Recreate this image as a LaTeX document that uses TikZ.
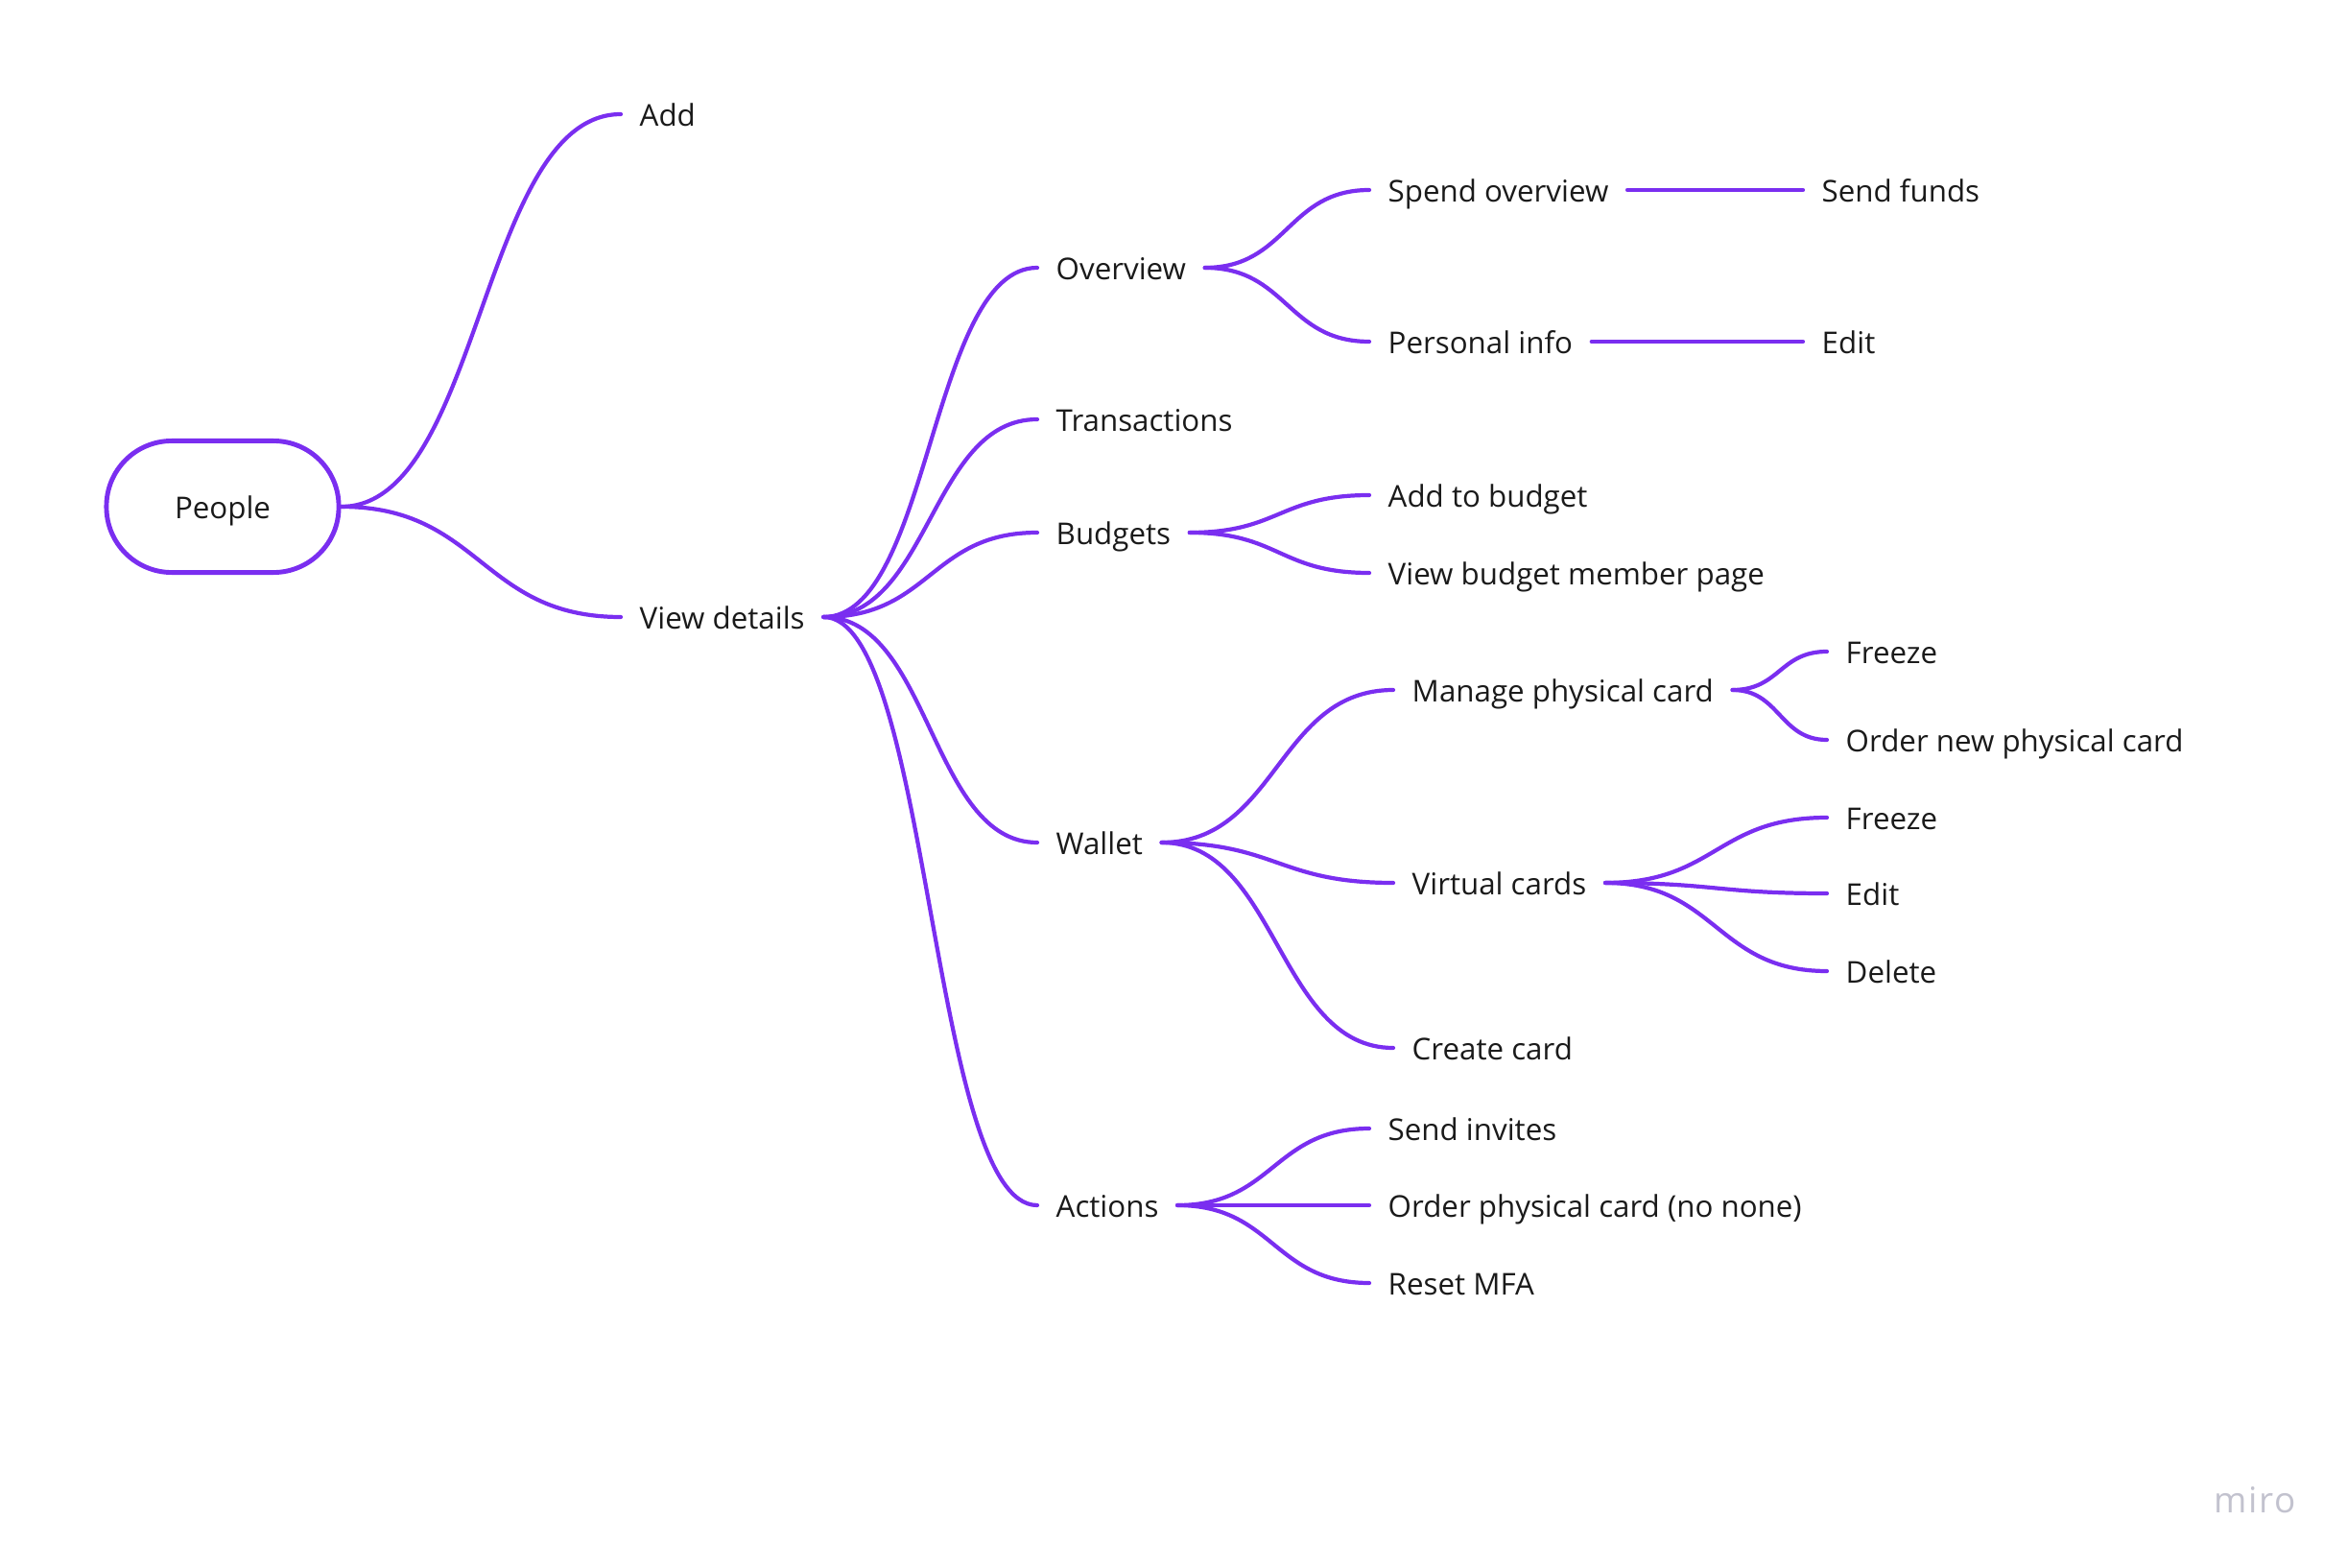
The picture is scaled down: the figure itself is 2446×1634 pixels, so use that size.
\documentclass[tikz,border=0pt]{standalone}
\usepackage{fontspec}
\setmainfont{Open Sans}
\newfontfamily\logoFont[LetterSpace=4]{Open Sans}
\usepackage{xcolor}
\definecolor{mapPurple}{HTML}{7A2EF0}
\definecolor{textPrimary}{HTML}{1A1A1A}
\definecolor{logoGrey}{HTML}{C2C2CE}
\usetikzlibrary{calc, positioning}

\begin{document}
\begin{tikzpicture}[x=0.01cm, y=-0.01cm,
    topic/.style={anchor=west, inner xsep=0.19cm, inner ysep=2pt,
                  text height=0.94em, text depth=0.25em,
                  text=textPrimary, font=\fontsize{8.9}{10}\selectfont},
    rootBox/.style={draw=mapPurple, line width=1.4pt, rounded corners=0.68cm,
                    minimum width=2.42cm, minimum height=1.37cm,
                    text height=0.94em, text depth=0.25em,
                    text=textPrimary, font=\fontsize{8.9}{10}\selectfont},
    branch/.style={draw=mapPurple, line width=1.2pt, line cap=round,
                   to path={.. controls ($(\tikztostart)!0.5!(\tikztostart -| \tikztotarget)$)
                            and ($(\tikztotarget)!0.5!(\tikztotarget -| \tikztostart)$)
                            .. (\tikztotarget)}}]
  \useasboundingbox (0,0) rectangle (2446,1634);

  % root and first level
  \node[rootBox] (people) at (232,528) {People};
  \node[topic] (add) at (647,119) {Add};
  \node[topic] (details) at (647,643) {View details};

  % view details
  \node[topic] (overview) at (1081,279) {Overview};
  \node[topic] (transactions) at (1081,437) {Transactions};
  \node[topic] (budgets) at (1081,555) {Budgets};
  \node[topic] (wallet) at (1081,878) {Wallet};
  \node[topic] (actions) at (1081,1256) {Actions};

  % overview
  \node[topic] (spend) at (1427,198) {Spend overview};
  \node[topic] (personal) at (1427,356) {Personal info};
  \node[topic] (sendFunds) at (1879,198) {Send funds};
  \node[topic] (editInfo) at (1879,356) {Edit};

  % budgets
  \node[topic] (addBudget) at (1427,516) {Add to budget};
  \node[topic] (viewBudget) at (1427,597) {View budget member page};

  % wallet
  \node[topic] (physical) at (1452,719) {Manage physical card};
  \node[topic] (virtual) at (1452,920) {Virtual cards};
  \node[topic] (createCard) at (1452,1092) {Create card};
  \node[topic] (freezePhys) at (1904,679) {Freeze};
  \node[topic] (orderNew) at (1904,771) {Order new physical card};
  \node[topic] (freezeVirt) at (1904,852) {Freeze};
  \node[topic] (editVirt) at (1904,931) {Edit};
  \node[topic] (deleteVirt) at (1904,1012) {Delete};

  % actions
  \node[topic] (invites) at (1427,1176) {Send invites};
  \node[topic] (orderCard) at (1427,1256) {Order physical card (no none)};
  \node[topic] (resetMfa) at (1427,1337) {Reset MFA};

  % connectors
  \foreach \from/\to in {people/add, people/details,
      details/overview, details/transactions, details/budgets,
      details/wallet, details/actions,
      overview/spend, overview/personal,
      budgets/addBudget, budgets/viewBudget,
      wallet/physical, wallet/virtual, wallet/createCard,
      physical/freezePhys, physical/orderNew,
      virtual/freezeVirt, virtual/editVirt, virtual/deleteVirt,
      actions/invites, actions/orderCard, actions/resetMfa}
    \draw[branch] (\from.east) to (\to.west);
  \draw[branch] (spend.east) -- (sendFunds.west);
  \draw[branch] (personal.east) -- (editInfo.west);

  \node[text=logoGrey, font=\logoFont\fontsize{10.5}{12}\selectfont] (logo) at (2350,1563) {miro};
\end{tikzpicture}
\end{document}
